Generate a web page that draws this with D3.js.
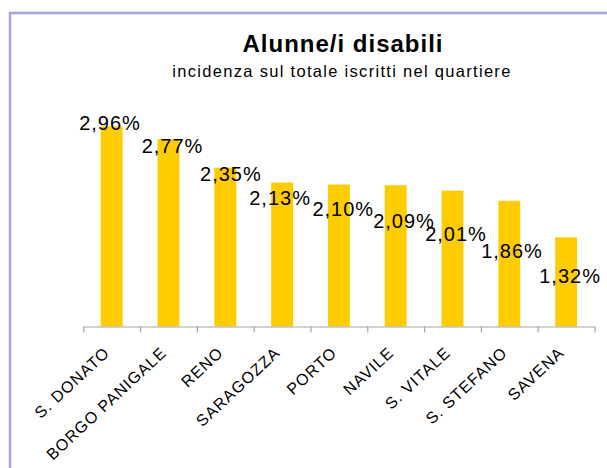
<!DOCTYPE html>
<html>
<head>
<meta charset="utf-8">
<script src="https://cdn.jsdelivr.net/npm/d3@7"></script>
<style>
  html, body { margin: 0; padding: 0; background: #ffffff; }
  svg { display: block; }
</style>
</head>
<body>
<svg id="chart" width="607" height="468"></svg>
<script>
// ---- data ----
const categories = ["S. DONATO", "BORGO PANIGALE", "RENO", "SARAGOZZA", "PORTO", "NAVILE", "S. VITALE", "S. STEFANO", "SAVENA"];
const values = [2.96, 2.77, 2.35, 2.13, 2.10, 2.09, 2.01, 1.86, 1.32];
const valueLabels = ["2,96%", "2,77%", "2,35%", "2,13%", "2,10%", "2,09%", "2,01%", "1,86%", "1,32%"];
const titleText = "Alunne/i disabili";
const subtitleText = "incidenza sul totale iscritti nel quartiere";

// ---- layout ----
const svg = d3.select("#chart");
const W = 607, H = 468;
const plot = { left: 83.3, right: 594.5, bottom: 326.5 };

// frame
svg.append("rect")
  .attr("x", 10).attr("y", 13)
  .attr("width", W + 20).attr("height", H + 20)
  .attr("fill", "#ffffff")
  .attr("stroke", "#a4a4d8")
  .attr("stroke-width", 2.5);

// titles
svg.append("text")
  .attr("x", 343).attr("y", 52)
  .attr("text-anchor", "middle")
  .attr("font-family", "Liberation Sans, Arial, sans-serif")
  .attr("font-size", 24).attr("font-weight", "bold")
  .style("letter-spacing", "1px")
  .attr("fill", "#000")
  .text(titleText);

svg.append("text")
  .attr("x", 342).attr("y", 77)
  .attr("text-anchor", "middle")
  .attr("font-family", "Liberation Sans, Arial, sans-serif")
  .attr("font-size", 16.5)
  .style("letter-spacing", "1.3px")
  .attr("fill", "#000")
  .text(subtitleText);

// scales
const x = d3.scaleBand().domain(categories).range([plot.left, plot.right]).padding(0);
const xi = d3.scaleLinear().domain([0, categories.length]).range([plot.left, plot.right]);
const y = d3.scaleLinear().domain([0, 3.5]).range([plot.bottom, plot.bottom - 3.5 * 67.6]);
const barW = x.bandwidth() * 0.385;

// bars
svg.append("g").selectAll("rect")
  .data(values)
  .join("rect")
  .attr("x", (d, i) => x(categories[i]) + x.bandwidth() / 2 - barW / 2)
  .attr("y", d => y(d))
  .attr("width", barW)
  .attr("height", d => y(0) - y(d))
  .attr("fill", "#ffcc00");

// axis with ticks between categories
const axis = svg.append("g")
  .attr("transform", `translate(0,${plot.bottom})`)
  .call(d3.axisBottom(xi).tickValues(d3.range(categories.length + 1)).tickFormat("").tickSize(6).tickSizeOuter(0));
axis.select(".domain").attr("stroke", "#a6a6a6").attr("stroke-width", 1.2);
axis.selectAll(".tick line").attr("stroke", "#a6a6a6").attr("stroke-width", 1.2);

// value labels (offsets from bar tops as placed by hand in the original)
const labelDx = [-1.7, 4, 5.6, -2, 4.4, 8.3, 3.5, 2.7, 4];
const labelDy = [3.5, 14, 13, 22, 31.5, 43, 50, 57, 46];
svg.append("g").selectAll("text")
  .data(values)
  .join("text")
  .attr("x", (d, i) => x(categories[i]) + x.bandwidth() / 2 + labelDx[i])
  .attr("y", (d, i) => y(d) + labelDy[i])
  .attr("text-anchor", "middle")
  .attr("font-family", "Liberation Sans, Arial, sans-serif")
  .attr("font-size", 20)
  .style("letter-spacing", "1px")
  .attr("fill", "#000")
  .text((d, i) => valueLabels[i]);

// category labels
svg.append("g").selectAll("text")
  .data(categories)
  .join("text")
  .attr("transform", d => `translate(${x(d) + x.bandwidth() / 2 - 1},354) rotate(-43)`)
  .attr("text-anchor", "end")
  .attr("font-family", "Liberation Sans, Arial, sans-serif")
  .attr("font-size", 16)
  .style("letter-spacing", "1px")
  .attr("fill", "#000")
  .text(d => d);
</script>
</body>
</html>
